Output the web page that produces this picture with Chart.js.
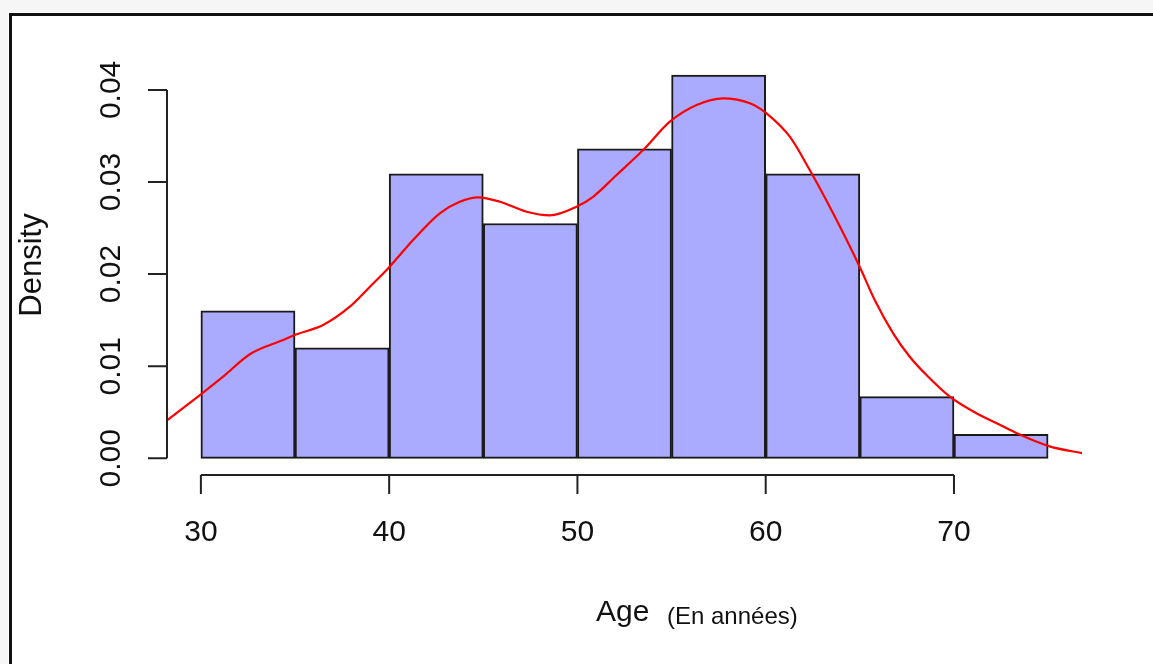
<!DOCTYPE html>
<html>
<head>
<meta charset="utf-8">
<script src="https://cdn.jsdelivr.net/npm/chart.js@4.4.1/dist/chart.umd.min.js"></script>
<style>
  html, body { margin: 0; padding: 0; background: #ffffff; }
  #wrap { width: 1153px; height: 664px; }
</style>
</head>
<body>
<div id="wrap"><canvas id="c" width="1153" height="664"></canvas></div>
<script>
// ---- Data ----
const ageBreaks = [30, 35, 40, 45, 50, 55, 60, 65, 70, 75];
const binDensity = [0.0160, 0.0120, 0.0309, 0.0255, 0.0336, 0.0416, 0.0309, 0.0067, 0.0026];

const curveAge = [28.18, 29.95, 31.18, 32.60, 34.37, 35.08, 36.49, 37.91, 38.98, 39.95,
  41.27, 42.69, 43.75, 44.73, 45.88, 47.30, 48.53, 49.95, 50.83, 52.08, 53.49, 54.91,
  56.33, 57.74, 59.16, 60.04, 61.28, 62.34, 63.58, 64.99, 65.79, 66.77, 67.65, 68.54,
  69.78, 71.19, 72.43, 73.31, 75.08, 76.86];
const curveDensity = [0.00408, 0.00687, 0.00886, 0.01130, 0.01284, 0.01346, 0.01447,
  0.01646, 0.01863, 0.02063, 0.0237, 0.0266, 0.02786, 0.02834, 0.02786, 0.02677, 0.02638,
  0.02732, 0.0284, 0.03076, 0.03347, 0.03655, 0.03836, 0.03909, 0.03855, 0.03746, 0.03492,
  0.0313, 0.0266, 0.0208, 0.01719, 0.01357, 0.01103, 0.00904, 0.00669, 0.00489, 0.00365,
  0.00275, 0.00130, 0.00054];

const xTickValues = [30, 40, 50, 60, 70];
const xTickLabels = ['30', '40', '50', '60', '70'];
const yTickValues = [0, 0.01, 0.02, 0.03, 0.04];
const yTickLabels = ['0.00', '0.01', '0.02', '0.03', '0.04'];

const xTitle = 'Age';
const xTitleNote = '(En années)';
const yTitle = 'Density';

// ---- Build datasets ----
const barPoints = binDensity.map((d, i) => ({ x: (ageBreaks[i] + ageBreaks[i + 1]) / 2, y: d }));
const curvePoints = curveAge.map((a, i) => ({ x: a, y: curveDensity[i] }));

const FONT = '"Liberation Sans", Arial, Helvetica, sans-serif';
const AXIS_COLOR = '#222222';

const rAxesPlugin = {
  id: 'rAxes',
  beforeDraw(chart) {
    const ctx = chart.ctx;
    ctx.save();
    ctx.fillStyle = '#ffffff';
    ctx.fillRect(0, 0, chart.width, chart.height);
    ctx.fillStyle = '#f6f6f6';
    ctx.fillRect(0, 0, chart.width, 12);
    ctx.fillRect(0, 0, 8, chart.height);
    ctx.fillStyle = '#111111';
    ctx.fillRect(9, 13, chart.width - 9, 3);
    ctx.fillRect(9, 13, 3, chart.height - 13);
    ctx.restore();
  },
  afterDraw(chart) {
    const ctx = chart.ctx;
    const xs = chart.scales.x, ys = chart.scales.y;
    const area = chart.chartArea;
    ctx.save();
    ctx.strokeStyle = AXIS_COLOR;
    ctx.lineWidth = 2;
    ctx.lineCap = 'butt';

    // Y axis
    const yx = area.left;
    const y0 = ys.getPixelForValue(yTickValues[0]);
    const y1 = ys.getPixelForValue(yTickValues[yTickValues.length - 1]);
    ctx.beginPath();
    ctx.moveTo(yx, y0); ctx.lineTo(yx, y1);
    yTickValues.forEach(v => {
      const p = ys.getPixelForValue(v);
      ctx.moveTo(yx, p); ctx.lineTo(yx - 19, p);
    });
    ctx.stroke();

    // X axis
    const xy = area.bottom;
    const x0 = xs.getPixelForValue(xTickValues[0]);
    const x1 = xs.getPixelForValue(xTickValues[xTickValues.length - 1]);
    ctx.beginPath();
    ctx.moveTo(x0, xy); ctx.lineTo(x1, xy);
    xTickValues.forEach(v => {
      const p = xs.getPixelForValue(v);
      ctx.moveTo(p, xy); ctx.lineTo(p, xy + 19);
    });
    ctx.stroke();

    // tick labels
    ctx.fillStyle = '#111111';
    ctx.font = '30px ' + FONT;
    ctx.textAlign = 'center';
    ctx.textBaseline = 'middle';
    xTickValues.forEach((v, i) => {
      ctx.fillText(xTickLabels[i], xs.getPixelForValue(v), 533);
    });
    yTickValues.forEach((v, i) => {
      ctx.save();
      ctx.translate(112, ys.getPixelForValue(v));
      ctx.rotate(-Math.PI / 2);
      ctx.fillText(yTickLabels[i], 0, 0);
      ctx.restore();
    });

    // axis titles
    ctx.save();
    ctx.font = '31px ' + FONT;
    ctx.translate(32, 265);
    ctx.rotate(-Math.PI / 2);
    ctx.fillText(yTitle, 0, 0);
    ctx.restore();

    ctx.textBaseline = 'alphabetic';
    ctx.textAlign = 'left';
    ctx.font = '30px ' + FONT;
    ctx.fillText(xTitle, 596, 621);
    ctx.font = '24px ' + FONT;
    ctx.fillText(xTitleNote, 667, 624);
    ctx.restore();
  }
};

new Chart(document.getElementById('c'), {
  type: 'bar',
  data: {
    datasets: [
      {
        type: 'line',
        data: curvePoints,
        borderColor: '#ff0000',
        borderWidth: 2.2,
        pointRadius: 0,
        cubicInterpolationMode: 'monotone',
        fill: false,
        order: 0
      },
      {
        type: 'bar',
        data: barPoints,
        backgroundColor: '#aaaaff',
        borderColor: '#1a1a1a',
        borderWidth: 2,
        borderSkipped: false,
        barPercentage: 1,
        categoryPercentage: 1,
        order: 1
      }
    ]
  },
  options: {
    responsive: false,
    animation: false,
    devicePixelRatio: 1,
    layout: { padding: { left: 167, right: 71, top: 25, bottom: 189 } },
    plugins: { legend: { display: false }, tooltip: { enabled: false } },
    scales: {
      x: {
        type: 'linear',
        min: 28.2,
        max: 76.8,
        offset: false,
        display: false,
        grid: { display: false },
        ticks: { stepSize: 5, includeBounds: false }
      },
      y: {
        type: 'linear',
        min: -0.001813,
        max: 0.04705,
        display: false,
        grid: { display: false },
        ticks: { stepSize: 0.01, includeBounds: false }
      }
    }
  },
  plugins: [rAxesPlugin]
});
</script>
</body>
</html>
